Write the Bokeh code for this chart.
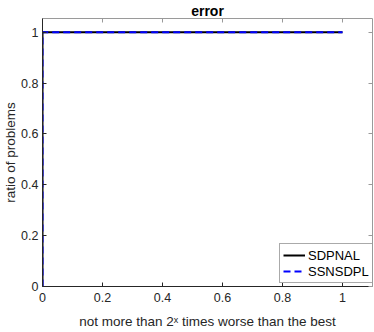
from bokeh.plotting import figure
from bokeh.models import Range1d, LinearAxis, Legend, LegendItem, FixedTicker
from bokeh.embed import file_html
from bokeh.resources import INLINE

# data
x_sdpnal = [0, 0, 1]
y_sdpnal = [0, 1, 1]
x_ssnsdpl = [0, 0, 1]
y_ssnsdpl = [0, 1, 1]
series_names = ["SDPNAL", "SSNSDPL"]
x_ticks = [0, 0.2, 0.4, 0.6, 0.8, 1]
y_ticks = [0, 0.2, 0.4, 0.6, 0.8, 1]
title_text = "error"
x_label = "not more than 2\u02e3 times worse than the best"
y_label = "ratio of problems"

FONT = "Liberation Sans"
AX = "#262626"

p = figure(width=374, height=332, output_backend="svg", toolbar_location=None,
           x_range=Range1d(0, 1.1), y_range=Range1d(0, 1.054),
           min_border_left=0, min_border_right=2, min_border_top=0,
           min_border_bottom=46, title=title_text)
p.title.text_font = FONT
p.title.text_font_size = "14px"
p.title.text_font_style = "bold"
p.title.text_color = "black"
p.title.align = "center"
p.title.standoff = 0
p.title.offset = 0
p.outline_line_color = None
p.xgrid.visible = False
p.ygrid.visible = False

for ax in (p.xaxis[0], p.yaxis[0]):
    ax.major_tick_in = 4
    ax.major_tick_out = 0
    ax.minor_tick_line_color = None
    ax.axis_line_color = AX
    ax.major_tick_line_color = AX
    ax.major_label_text_font = FONT
    ax.major_label_text_font_size = "12.5px"
    ax.major_label_text_color = AX

p.xaxis[0].ticker = FixedTicker(ticks=x_ticks)
p.yaxis[0].ticker = FixedTicker(ticks=y_ticks)
p.xaxis[0].major_label_overrides = {0: "0", 1: "1"}
p.yaxis[0].major_label_overrides = {0: "0", 1: "1"}
p.xaxis[0].major_label_standoff = 6
p.yaxis[0].major_label_standoff = 4
p.xaxis[0].axis_label = x_label
p.yaxis[0].axis_label = y_label
for ax in (p.xaxis[0], p.yaxis[0]):
    ax.axis_label_text_font = FONT
    ax.axis_label_text_font_size = "13.5px"
    ax.axis_label_text_font_style = "normal"
    ax.axis_label_text_color = AX
p.xaxis[0].axis_label_standoff = 9
p.yaxis[0].axis_label_standoff = 0

# mirrored box axes with inward ticks
for loc, tk in (("above", x_ticks), ("right", y_ticks)):
    a = LinearAxis(ticker=FixedTicker(ticks=tk))
    a.major_tick_in = 4
    a.major_tick_out = 0
    a.minor_tick_line_color = None
    a.axis_line_color = "#9a9a9a"
    a.major_tick_line_color = "#9a9a9a"
    a.major_label_text_font_size = "0px"
    a.major_label_text_color = None
    a.major_label_standoff = 0
    p.add_layout(a, loc)

r1 = p.line(x_sdpnal, y_sdpnal, line_color="black", line_width=2)
r2 = p.line(x_ssnsdpl, y_ssnsdpl, line_color="#0000ff", line_width=2,
            line_dash="7 4")

legend = Legend(items=[LegendItem(label=series_names[0], renderers=[r1]),
                       LegendItem(label=series_names[1], renderers=[r2])],
                location=(237, 3))
legend.label_text_font = FONT
legend.label_text_font_size = "13px"
legend.label_text_color = "black"
legend.glyph_width = 22
legend.glyph_height = 16
legend.label_height = 16
legend.label_standoff = 3
legend.padding = 3
legend.spacing = 0
legend.margin = 0
legend.border_line_color = "#555555"
legend.border_line_width = 1
legend.background_fill_color = "white"
legend.background_fill_alpha = 1
p.add_layout(legend, "center")

open("out.html", "w").write(file_html(p, INLINE))
